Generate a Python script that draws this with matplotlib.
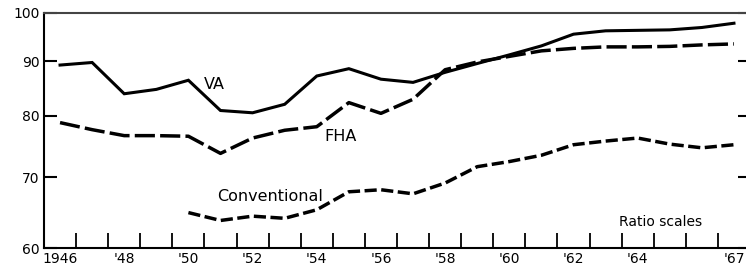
import numpy as np
import matplotlib
matplotlib.use("Agg")
import matplotlib.pyplot as plt
from matplotlib.ticker import FixedLocator, NullLocator, FixedFormatter

plt.rcParams['font.family'] = ['DejaVu Sans']

# annual values, plotted at mid-year
years = np.arange(1946, 1968)
va = [89.3, 89.8, 83.9, 84.7, 86.4, 80.9, 80.5, 82.0, 87.2, 88.6, 86.6,
      86.0, 87.9, 89.6, 91.3, 93.1, 95.5, 96.2, 96.3, 96.4, 96.9, 97.8]
fha = [78.8, 77.6, 76.6, 76.6, 76.5, 73.7, 76.2, 77.5, 78.1, 82.3, 80.4,
       82.9, 88.4, 89.9, 91.0, 92.1, 92.6, 92.9, 92.9, 93.0, 93.3, 93.5]
conv = [np.nan, np.nan, np.nan, np.nan, 64.8, 63.7, 64.3, 64.0, 65.2, 67.8, 68.1,
        67.5, 69.1, 71.6, 72.4, 73.4, 75.1, 75.7, 76.2, 75.2, 74.6, 75.1]

y_ticks = [60, 70, 80, 90, 100]
x_label_years = [1946, 1948, 1950, 1952, 1954, 1956, 1958, 1960, 1962, 1964, 1967]
x_labels = ['1946', "'48", "'50", "'52", "'54", "'56", "'58", "'60", "'62", "'64", "'67"]

fig = plt.figure(figsize=(7.46, 2.70), dpi=100)
ax = fig.add_axes([44 / 746, 22 / 270, 706 / 746, 235 / 270])

x = years + 0.5
ax.plot(x, va, color='black', lw=2.2, solid_joinstyle='miter')
ax.plot(x, fha, color='black', lw=2.5, dashes=(5.8, 1.5))
ax.plot(x, conv, color='black', lw=2.5, dashes=(3.5, 1.3))

ax.set_yscale('log')
ax.set_ylim(60, 100)
ax.set_xlim(1946, 1968)

ax.yaxis.set_major_locator(FixedLocator(y_ticks))
ax.yaxis.set_major_formatter(FixedFormatter([str(v) for v in y_ticks]))
ax.yaxis.set_minor_locator(NullLocator())

# year boundary ticks, labels centred in the year
ax.xaxis.set_major_locator(FixedLocator(list(range(1947, 1968))))
ax.xaxis.set_major_formatter(FixedFormatter([''] * 21))
ax.xaxis.set_minor_locator(FixedLocator([y + 0.5 for y in x_label_years]))
ax.xaxis.set_minor_formatter(FixedFormatter(x_labels))

ax.tick_params(axis='x', which='major', direction='in', length=11, width=1.3)
ax.tick_params(axis='x', which='minor', length=0, pad=3, labelsize=10)
ax.tick_params(axis='y', which='major', direction='in', length=9, width=1.5,
               right=True, pad=3, labelsize=10)

for s in ['left', 'bottom']:
    ax.spines[s].set_linewidth(1.5)
ax.spines['top'].set_linewidth(1.5)
ax.spines['top'].set_color('#444444')
ax.spines['right'].set_visible(False)

ax.text(1951.3, 85.6, 'VA', fontsize=11.5, ha='center', va='center')
ax.text(1955.25, 76.5, 'FHA', fontsize=11.5, ha='center', va='center')
ax.text(1953.05, 67.1, 'Conventional', fontsize=11.5, ha='center', va='center')
ax.text(1965.2, 63.5, 'Ratio scales', fontsize=10, ha='center', va='center')

fig.savefig('out.png', dpi=100)
plt.close(fig)
